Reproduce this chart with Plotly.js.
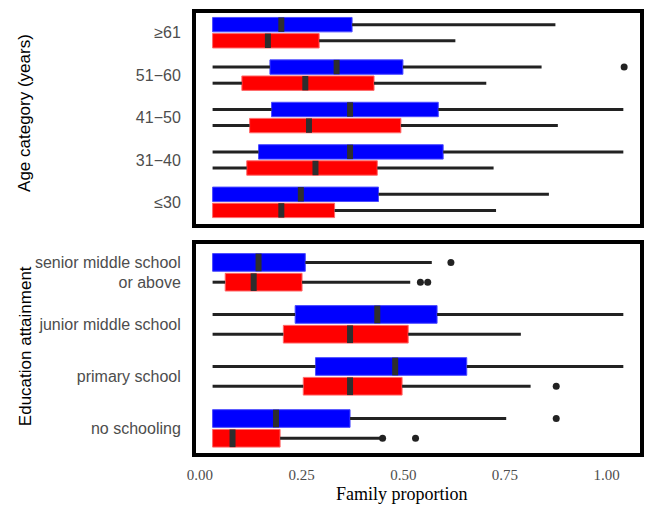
<!DOCTYPE html>
<html>
<head>
<meta charset="utf-8">
<script src="https://cdn.plot.ly/plotly-3.0.1.min.js"></script>
<style>html,body{margin:0;padding:0;background:#fff;}#chart{width:645px;height:505px;}</style>
</head>
<body>
<div id="chart"></div>
<script>
// ---- Data (categories listed bottom to top) ----
const ageCategories = ['≤30', '31−40', '41−50', '51−60', '≥61'];
const ageBlueMin = [0.031, 0.031, 0.031, 0.031, 0.031];
const ageBlueQ1  = [0.031, 0.144, 0.176, 0.172, 0.031];
const ageBlueMed = [0.248, 0.369, 0.369, 0.336, 0.200];
const ageBlueQ3  = [0.439, 0.598, 0.586, 0.499, 0.374];
const ageBlueMax = [0.858, 1.041, 1.041, 0.840, 0.874];
const ageRedMin  = [0.031, 0.031, 0.031, 0.031, 0.031];
const ageRedQ1   = [0.031, 0.115, 0.122, 0.103, 0.031];
const ageRedMed  = [0.200, 0.284, 0.268, 0.259, 0.167];
const ageRedQ3   = [0.331, 0.436, 0.494, 0.428, 0.293];
const ageRedMax  = [0.728, 0.722, 0.880, 0.704, 0.628];
const ageBlueOutX = [1.043];
const ageBlueOutCat = ['51−60'];
const ageRedOutX = [];
const ageRedOutCat = [];

const eduCategories = ['no schooling', 'primary school', 'junior middle school', 'senior middle school<br>or above'];
const eduBlueMin = [0.031, 0.031, 0.031, 0.031];
const eduBlueQ1  = [0.031, 0.284, 0.234, 0.031];
const eduBlueMed = [0.187, 0.480, 0.436, 0.144];
const eduBlueQ3  = [0.369, 0.656, 0.583, 0.259];
const eduBlueMax = [0.753, 1.041, 1.041, 0.570];
const eduRedMin  = [0.031, 0.031, 0.031, 0.031];
const eduRedQ1   = [0.031, 0.254, 0.205, 0.062];
const eduRedMed  = [0.080, 0.369, 0.369, 0.132];
const eduRedQ3   = [0.197, 0.497, 0.512, 0.251];
const eduRedMax  = [0.446, 0.813, 0.789, 0.517];
const eduBlueOutX = [0.876, 0.617];
const eduBlueOutCat = ['no schooling', 'senior middle school<br>or above'];
const eduRedOutX = [0.449, 0.530, 0.876, 0.542, 0.560];
const eduRedOutCat = ['no schooling', 'no schooling', 'primary school', 'senior middle school<br>or above', 'senior middle school<br>or above'];

const xTickVals = [0, 0.25, 0.5, 0.75, 1.0];
const xTickText = ['0.00', '0.25', '0.50', '0.75', '1.00'];

// ---- Styles ----
const BLUE = '#0000ff', RED = '#ff0000';
const OFFSET = 0.19, HALF = 0.17;

function series(cats, mn, q1, med, q3, mx, outX, outCat, color, edge, dir, xa, ya) {
  const pos = cats.map((c, i) => i + 1 + dir * OFFSET);
  const traces = [];
  traces.push({
    type: 'bar', orientation: 'h', xaxis: xa, yaxis: ya,
    y: pos, base: q1, x: q3.map((v, i) => v - q1[i]), width: HALF * 2,
    marker: {color: color, line: {color: edge, width: 1}}, hoverinfo: 'skip'
  });
  const wx = [], wy = [];
  cats.forEach((c, i) => { wx.push(mn[i], q1[i], null, q3[i], mx[i], null); wy.push(pos[i], pos[i], null, pos[i], pos[i], null); });
  traces.push({type: 'scatter', mode: 'lines', xaxis: xa, yaxis: ya, x: wx, y: wy,
    line: {color: '#222', width: 3}, hoverinfo: 'skip'});
  const mxs = [], mys = [];
  cats.forEach((c, i) => { mxs.push(med[i], med[i], null); mys.push(pos[i] - HALF, pos[i] + HALF, null); });
  traces.push({type: 'scatter', mode: 'lines', xaxis: xa, yaxis: ya, x: mxs, y: mys,
    line: {color: '#2e2e2e', width: 6}, hoverinfo: 'skip'});
  if (outX.length) {
    traces.push({type: 'scatter', mode: 'markers', xaxis: xa, yaxis: ya,
      x: outX, y: outCat.map(c => cats.indexOf(c) + 1 + dir * OFFSET),
      marker: {color: '#222', size: 7}, hoverinfo: 'skip'});
  }
  return traces;
}

const data = [].concat(
  series(ageCategories, ageBlueMin, ageBlueQ1, ageBlueMed, ageBlueQ3, ageBlueMax, ageBlueOutX, ageBlueOutCat, BLUE, '#4b4bff', 1, 'x2', 'y2'),
  series(ageCategories, ageRedMin, ageRedQ1, ageRedMed, ageRedQ3, ageRedMax, ageRedOutX, ageRedOutCat, RED, '#ff6a6a', -1, 'x2', 'y2'),
  series(eduCategories, eduBlueMin, eduBlueQ1, eduBlueMed, eduBlueQ3, eduBlueMax, eduBlueOutX, eduBlueOutCat, BLUE, '#4b4bff', 1, 'x', 'y'),
  series(eduCategories, eduRedMin, eduRedQ1, eduRedMed, eduRedQ3, eduRedMax, eduRedOutX, eduRedOutCat, RED, '#ff6a6a', -1, 'x', 'y')
);

const sansTick = {family: 'Liberation Sans, Arial, sans-serif', size: 16, color: '#4d4d4d'};
const frame = {showline: true, mirror: true, linewidth: 4, linecolor: '#000', showgrid: false, zeroline: false};
const xRange = [-0.0098, 1.082];

const layout = {
  width: 645, height: 505,
  margin: {l: 196, r: 5, t: 13, b: 52},
  paper_bgcolor: '#fff', plot_bgcolor: '#fff',
  showlegend: false, barmode: 'overlay',
  xaxis: Object.assign({}, frame, {domain: [0, 1], anchor: 'y', range: xRange,
    tickvals: xTickVals, ticktext: xTickText, ticks: 'outside', ticklen: 5, tickcolor: 'rgba(0,0,0,0)',
    tickfont: {family: 'Liberation Serif, Times New Roman, serif', size: 15, color: '#4d4d4d'}}),
  xaxis2: Object.assign({}, frame, {domain: [0, 1], anchor: 'y2', range: xRange, matches: 'x',
    showticklabels: false, ticks: ''}),
  yaxis: Object.assign({}, frame, {domain: [0, 0.475], anchor: 'x', range: [0.527, 4.544],
    tickvals: [1, 2, 3, 4], ticktext: eduCategories, ticks: 'outside', ticklen: 8, tickcolor: 'rgba(0,0,0,0)',
    tickfont: sansTick}),
  yaxis2: Object.assign({}, frame, {domain: [0.5205, 1], anchor: 'x2', range: [0.49, 5.465],
    tickvals: [1, 2, 3, 4, 5], ticktext: ageCategories, ticks: 'outside', ticklen: 8, tickcolor: 'rgba(0,0,0,0)',
    tickfont: sansTick}),
  annotations: [
    {text: 'Age category (years)', xref: 'paper', yref: 'paper', x: -0.385, y: 0.773, textangle: -90,
      showarrow: false, xanchor: 'center', yanchor: 'middle', font: {family: 'Liberation Sans, Arial, sans-serif', size: 17, color: '#000'}},
    {text: 'Education attainment', xref: 'paper', yref: 'paper', x: -0.385, y: 0.243, textangle: -90,
      showarrow: false, xanchor: 'center', yanchor: 'middle', font: {family: 'Liberation Sans, Arial, sans-serif', size: 17, color: '#000'}},
    {text: 'Family proportion', xref: 'paper', yref: 'paper', x: 0.464, y: -0.093,
      showarrow: false, xanchor: 'center', yanchor: 'middle', font: {family: 'Liberation Serif, Times New Roman, serif', size: 18, color: '#000'}}
  ]
};

Plotly.newPlot('chart', data, layout, {staticPlot: true, displayModeBar: false});
</script>
</body>
</html>
